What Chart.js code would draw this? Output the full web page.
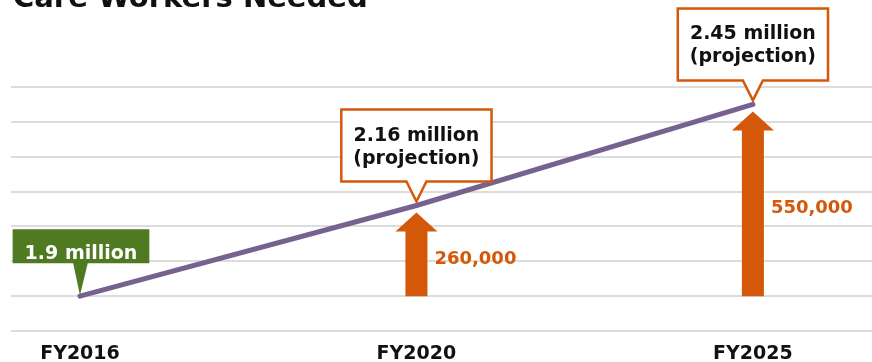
<!DOCTYPE html>
<html>
<head>
<meta charset="utf-8">
<script src="https://cdn.jsdelivr.net/npm/chart.js@4/dist/chart.umd.min.js"></script>
<style>
  html, body { margin: 0; padding: 0; background: #fff; }
  #wrap { width: 872px; height: 362px; position: relative; }
</style>
</head>
<body>
<div id="wrap"><canvas id="chart-workers"></canvas></div>
<script>
// Datos: trabajadores de cuidados necesarios (millones)
const years = ['FY2016', 'FY2020', 'FY2025'];
const yearPos = [0, 1, 2];
const workers = [1.9, 2.16, 2.45];
const calloutLines = [['1.9 million'], ['2.16 million', '(projection)'], ['2.45 million', '(projection)']];
const increaseLabels = ['', '260,000', '550,000'];
const yTicks = [1.8, 1.9, 2.0, 2.1, 2.2, 2.3, 2.4, 2.5];

const FONT = '"DejaVu Sans", sans-serif';
const ORANGE = '#d4580a';
const GREEN = '#4f7a21';

// Flechas de incremento + etiquetas
const arrowsPlugin = {
  id: 'arrows',
  beforeDatasetsDraw(chart) {
    const { ctx, scales: { x, y } } = chart;
    const yBase = y.getPixelForValue(workers[0]);
    ctx.save();
    for (let i = 1; i < workers.length; i++) {
      const cx = x.getPixelForValue(yearPos[i]);
      const tip = y.getPixelForValue(workers[i]) + 7;
      const headH = 19, headW = 21, shaftW = 11;
      ctx.fillStyle = ORANGE;
      ctx.beginPath();
      ctx.moveTo(cx, tip);
      ctx.lineTo(cx + headW, tip + headH);
      ctx.lineTo(cx + shaftW, tip + headH);
      ctx.lineTo(cx + shaftW, yBase);
      ctx.lineTo(cx - shaftW, yBase);
      ctx.lineTo(cx - shaftW, tip + headH);
      ctx.lineTo(cx - headW, tip + headH);
      ctx.closePath();
      ctx.fill();

      ctx.font = 'bold 18px ' + FONT;
      ctx.textAlign = 'left';
      ctx.textBaseline = 'middle';
      ctx.fillText(increaseLabels[i], cx + 18, (tip + yBase) / 2 + 5);
    }
    ctx.restore();
  }
};

// Globos de texto y título
const calloutPlugin = {
  id: 'callouts',
  afterDatasetsDraw(chart) {
    const { ctx, scales: { x, y } } = chart;
    ctx.save();
    ctx.font = 'bold 19px ' + FONT;
    ctx.textAlign = 'center';
    ctx.textBaseline = 'alphabetic';

    workers.forEach((v, i) => {
      const px = x.getPixelForValue(yearPos[i]);
      const py = y.getPixelForValue(v);
      const lines = calloutLines[i];
      if (i === 0) {
        const w = ctx.measureText(lines[0]).width + 24;
        const bottom = py - 33, h = 34, top = bottom - h;
        const cx = px + 1;
        ctx.fillStyle = GREEN;
        ctx.beginPath();
        ctx.rect(cx - w / 2, top, w, h);
        ctx.fill();
        ctx.beginPath();
        ctx.moveTo(px - 7, bottom - 1);
        ctx.lineTo(px + 8, bottom - 1);
        ctx.lineTo(px, py - 1);
        ctx.closePath();
        ctx.fill();
        ctx.fillStyle = '#ffffff';
        ctx.fillText(lines[0], cx, top + 30);
      } else {
        const w = Math.max(...lines.map(l => ctx.measureText(l).width)) + 24;
        const tipY = py - 4, bottom = tipY - 20, h = 72, top = bottom - h;
        const l = px - w / 2, r = px + w / 2;
        ctx.fillStyle = '#ffffff';
        ctx.strokeStyle = ORANGE;
        ctx.lineWidth = 2.5;
        ctx.lineJoin = 'miter';
        ctx.beginPath();
        ctx.moveTo(l, top);
        ctx.lineTo(r, top);
        ctx.lineTo(r, bottom);
        ctx.lineTo(px + 10, bottom);
        ctx.lineTo(px, tipY);
        ctx.lineTo(px - 10, bottom);
        ctx.lineTo(l, bottom);
        ctx.closePath();
        ctx.fill();
        ctx.stroke();
        ctx.fillStyle = '#111111';
        ctx.fillText(lines[0], px, top + 31);
        ctx.fillText(lines[1], px, top + 54);
      }
    });

    ctx.font = 'bold 29px ' + FONT;
    ctx.textAlign = 'left';
    ctx.fillStyle = '#111111';
    ctx.fillText('Care Workers Needed', 13, 7);
    ctx.restore();
  }
};

new Chart(document.getElementById('chart-workers'), {
  type: 'line',
  data: {
    datasets: [{
      data: yearPos.map((p, i) => ({ x: p, y: workers[i] })),
      borderColor: '#77618f',
      borderWidth: 5,
      pointRadius: 0,
      tension: 0,
      borderCapStyle: 'round'
    }]
  },
  options: {
    responsive: true,
    maintainAspectRatio: false,
    animation: false,
    layout: { padding: { left: 11, top: 87, right: 0, bottom: 0 } },
    scales: {
      x: {
        type: 'linear',
        min: -0.205,
        max: 2.354,
        afterBuildTicks: (scale) => { scale.ticks = yearPos.map(v => ({ value: v })); },
        afterFit: (scale) => { scale.height = 31; },
        grid: { display: false },
        border: { display: false },
        ticks: {
          autoSkip: false,
          maxRotation: 0,
          padding: 6,
          color: '#111111',
          font: { family: FONT, size: 19, weight: 'bold', lineHeight: 1.0 },
          callback: (v, idx) => years[idx]
        }
      },
      y: {
        min: yTicks[0],
        max: yTicks[yTicks.length - 1],
        afterBuildTicks: (scale) => { scale.ticks = yTicks.map(v => ({ value: v })); },
        grid: { color: '#dcdcdc', lineWidth: 2, drawTicks: false },
        border: { display: false },
        ticks: { display: false }
      }
    },
    plugins: {
      legend: { display: false },
      tooltip: { enabled: false }
    }
  },
  plugins: [arrowsPlugin, calloutPlugin]
});
</script>
</body>
</html>
